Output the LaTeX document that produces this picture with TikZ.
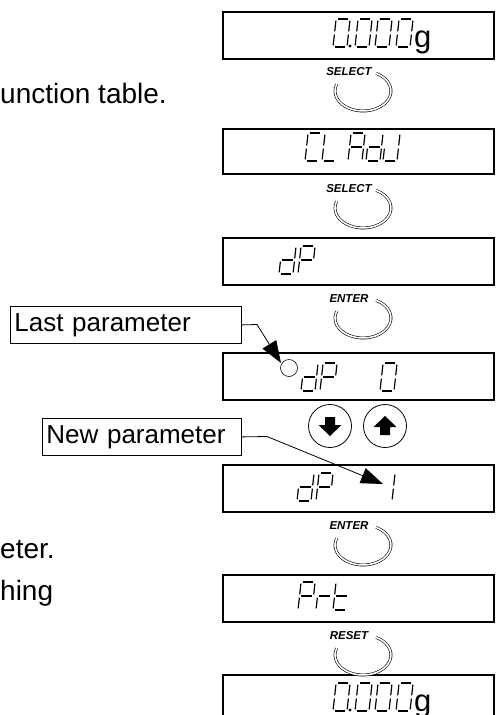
\documentclass[tikz,border=0pt]{standalone}
\usepackage{fontspec}
\setmainfont{Liberation Sans}
\usetikzlibrary{arrows.meta,calc}
\tikzset{
  dispbox/.style={draw, line width=1.4pt},
  seg/.style={line width=1.2pt, line cap=butt},
  keyring/.style={draw, double, double distance=1.6pt, line width=0.6pt},
  keylabel/.style={font=\fontsize{11.5}{12}\selectfont\bfseries\itshape, inner sep=0pt},
  labelbox/.style={draw, line width=0.8pt, font=\fontsize{26}{28}\selectfont, inner sep=0pt, anchor=north west},
  bodytext/.style={font=\fontsize{28}{30}\selectfont, inner sep=0pt, anchor=base west},
  pointer/.style={line width=0.8pt, -{Triangle[length=22pt, width=16pt]}},
}
% segments of a seven segment glyph, in a local frame: x right, y up = negative
\expandafter\def\csname ssa\endcsname{\draw[seg] (1.6,-28) -- (12.4,-28);}
\expandafter\def\csname ssb\endcsname{\draw[seg] (14,-26.4) -- (14,-15.6);}
\expandafter\def\csname ssc\endcsname{\draw[seg] (14,-12.4) -- (14,-1.6);}
\expandafter\def\csname ssd\endcsname{\draw[seg] (1.6,0) -- (12.4,0);}
\expandafter\def\csname sse\endcsname{\draw[seg] (0,-12.4) -- (0,-1.6);}
\expandafter\def\csname ssf\endcsname{\draw[seg] (0,-26.4) -- (0,-15.6);}
\expandafter\def\csname ssg\endcsname{\draw[seg] (1.6,-14) -- (12.4,-14);}
% #1 = x of bottom-left, #2 = y of bottom (y axis downwards), #3 = list of segments
\newcommand{\sevenseg}[3]{%
  \begin{scope}[shift={(#1,#2)}, cm={1,0,-0.11,1,(0,0)}]
    \foreach \s in {#3}{\csname ss\s\endcsname}
  \end{scope}}
\newcommand{\keyicon}[3]{% name, label, y of centre
  \coordinate (#1) at (363,#3);
  \node[keylabel] (#1l) at (349,#3-19) {#2};
  \draw[keyring] ($(#1)+(-62:28 and 20)$) arc[start angle=-62, end angle=200, x radius=28, y radius=20];
}
\begin{document}
\begin{tikzpicture}[x=1pt, y=1pt, yscale=-1]
\useasboundingbox (0,0) rectangle (496,715);

% display boxes
\draw[dispbox] (223,12) rectangle (494,59);
\draw[dispbox] (223,129) rectangle (494,174);
\draw[dispbox] (223,238) rectangle (494,285);
\draw[dispbox] (223,353) rectangle (494,400);
\draw[dispbox] (223,465) rectangle (494,512);
\draw[dispbox] (223,575) rectangle (494,622);
\draw[dispbox] (223,675) rectangle (494,725);

% box 1: 0.000g
\sevenseg{333}{47}{a,b,c,d,e,f}
\fill (350,46) circle (1.6);
\sevenseg{355}{47}{a,b,c,d,e,f}
\sevenseg{375}{47}{a,b,c,d,e,f}
\sevenseg{396}{47}{a,b,c,d,e,f}
\node[font=\fontsize{31}{31}\selectfont, inner sep=0pt, anchor=base west] (g1) at (414,47) {g};

% box 2: CL AdJ
\sevenseg{305}{161}{a,d,e,f}
\sevenseg{322}{161}{d,e,f}
\sevenseg{348}{161}{a,b,c,e,f,g}
\sevenseg{366}{161}{b,c,d,e,g}
\sevenseg{383}{161}{b,c,d,e}

% box 3: dP
\sevenseg{279}{274}{b,c,d,e,g}
\sevenseg{298}{274}{a,b,e,f,g}

% box 4: o dP 0
\draw[line width=0.6pt] (289,368) circle (8.5);
\sevenseg{301}{391}{b,c,d,e,g}
\sevenseg{320}{391}{a,b,e,f,g}
\sevenseg{380}{391}{a,b,c,d,e,f}

% box 5: dP 1
\sevenseg{297}{501}{b,c,d,e,g}
\sevenseg{316}{501}{a,b,e,f,g}
\sevenseg{378}{501}{b,c}

% box 6: Prt
\sevenseg{298}{610}{a,b,e,f,g}
\sevenseg{316}{610}{e,g}
\sevenseg{333}{610}{d,e,f,g}

% box 7: 0.000g (cut by the lower edge)
\sevenseg{333}{711}{a,b,c,d,e,f}
\fill (350,710) circle (1.6);
\sevenseg{355}{711}{a,b,c,d,e,f}
\sevenseg{375}{711}{a,b,c,d,e,f}
\sevenseg{396}{711}{a,b,c,d,e,f}
\node[font=\fontsize{31}{31}\selectfont, inner sep=0pt, anchor=base west] (g7) at (414,711) {g};

% keys
\keyicon{k1}{SELECT}{91}
\keyicon{k2}{SELECT}{208}
\keyicon{k3}{ENTER}{318}
\keyicon{k4}{ENTER}{545}
\keyicon{k5}{RESET}{655}

% arrow keys
\draw[line width=0.8pt] (330,426) circle (21.5);
\draw[line width=0.8pt] (385,426) circle (21.5);
\fill (325,417) -- (335,417) -- (335,425) -- (341.5,425) -- (330,436) -- (318.5,425) -- (325,425) -- cycle;
\fill (380,435) -- (390,435) -- (390,427) -- (396.5,427) -- (385,416) -- (373.5,427) -- (380,427) -- cycle;

% label boxes and pointers
\node[labelbox, minimum height=37pt, minimum width=227pt, text width=223pt, align=left, inner xsep=4pt] (last) at (10,306) {Last parameter};
\node[labelbox, minimum height=37pt, minimum width=195pt, text width=191pt, align=left, inner xsep=4pt] (new) at (42,418) {New parameter};
\coordinate (lastbend) at (257,324.5);
\coordinate (lasttip) at (281,363);
\draw[pointer] (last.east) -- (lastbend) -- (lasttip);
\coordinate (newbend) at (267,436.5);
\coordinate (newtip) at (383,484);
\draw[pointer] (new.east) -- (newbend) -- (newtip);

% body text fragments
\node[bodytext] (t1) at (0,103) {unction table.};
\node[bodytext] (t2) at (0,558) {eter.};
\node[bodytext] (t3) at (0,600) {hing};
\end{tikzpicture}
\end{document}
